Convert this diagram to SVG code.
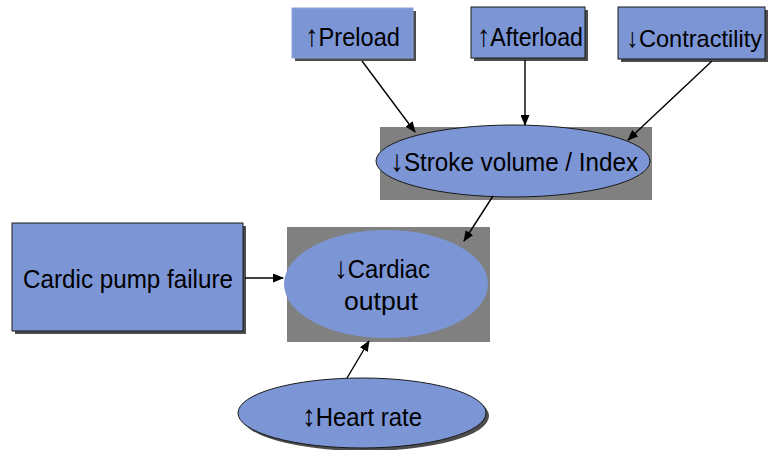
<svg xmlns="http://www.w3.org/2000/svg" width="771" height="450" viewBox="0 0 771 450">
  <style>
    .box { fill: #7c95d5; stroke: #1a1a1a; stroke-width: 1; }
    .box-soft { fill: #7c95d5; stroke: #8fa2d8; stroke-width: 1; }
    .shadow { fill: #4d4d4d; }
    .frame { fill: #808080; }
    .oval { fill: #7c95d5; }
    .oval-line { fill: #7c95d5; stroke: #1a1a1a; stroke-width: 1; }
    .label { font-family: "Liberation Sans", Arial, sans-serif; font-size: 26px; fill: #000; }
    .arw { font-size: 30px; }
    .tight { font-size: 24.5px; }
    .tight .arw { font-size: 27px; }
    .link { stroke: #000; stroke-width: 1.4; fill: none; marker-end: url(#head); }
  </style>
  <defs>
    <marker id="head" markerUnits="userSpaceOnUse" markerWidth="11" markerHeight="9" refX="10" refY="4.5" orient="auto">
      <path d="M0,0 L11,4.5 L0,9 z" fill="#000"/>
    </marker>
  </defs>
  <rect width="771" height="450" fill="#fff"/>

  <g id="preload">
    <rect class="shadow" x="295" y="11" width="121" height="50"/>
    <rect class="box-soft" x="292" y="8" width="121" height="50"/>
    <text class="label" x="305" y="46" textLength="95" lengthAdjust="spacingAndGlyphs"><tspan class="arw">↑</tspan>Preload</text>
  </g>

  <g id="afterload">
    <rect class="shadow" x="474" y="10" width="114" height="51"/>
    <rect class="box" x="471" y="7" width="114" height="51"/>
    <text class="label" x="477" y="46" textLength="106" lengthAdjust="spacingAndGlyphs"><tspan class="arw">↑</tspan>Afterload</text>
  </g>

  <g id="contractility">
    <rect class="shadow" x="621" y="10" width="147" height="52"/>
    <rect class="box" x="618" y="7" width="147" height="52"/>
    <text class="label tight" x="626" y="47" textLength="136" lengthAdjust="spacingAndGlyphs"><tspan class="arw">↓</tspan>Contractility</text>
  </g>

  <g id="stroke-volume">
    <rect class="frame" x="380" y="127" width="272" height="73"/>
    <ellipse class="oval-line" cx="513" cy="161" rx="137" ry="36"/>
    <text class="label" x="390" y="171" textLength="248" lengthAdjust="spacingAndGlyphs"><tspan class="arw">↓</tspan>Stroke volume / Index</text>
  </g>

  <g id="cardiac-output">
    <rect class="frame" x="287" y="227" width="203" height="115"/>
    <ellipse class="oval" cx="386" cy="284" rx="102" ry="54"/>
    <text class="label" x="334" y="278" textLength="96" lengthAdjust="spacingAndGlyphs"><tspan class="arw">↓</tspan>Cardiac</text>
    <text class="label" x="344" y="310" textLength="74" lengthAdjust="spacingAndGlyphs">output</text>
  </g>

  <g id="pump-failure">
    <rect class="shadow" x="15" y="226" width="231" height="108"/>
    <rect class="box" x="12" y="223" width="231" height="108"/>
    <text class="label" x="23" y="288" textLength="210" lengthAdjust="spacingAndGlyphs">Cardic pump failure</text>
  </g>

  <g id="heart-rate">
    <ellipse class="shadow" cx="365" cy="416" rx="124" ry="35"/>
    <ellipse class="oval-line" cx="362" cy="413" rx="124" ry="35"/>
    <text class="label" x="302" y="426" textLength="120" lengthAdjust="spacingAndGlyphs"><tspan class="arw">↕</tspan>Heart rate</text>
  </g>

  <g id="connectors">
    <line class="link" x1="362" y1="61" x2="415" y2="132"/>
    <line class="link" x1="525" y1="60" x2="525" y2="125"/>
    <line class="link" x1="712" y1="61" x2="628" y2="140"/>
    <line class="link" x1="493" y1="196" x2="464" y2="241"/>
    <line class="link" x1="245" y1="278" x2="283" y2="278"/>
    <line class="link" x1="347" y1="378" x2="369" y2="341"/>
  </g>
</svg>
